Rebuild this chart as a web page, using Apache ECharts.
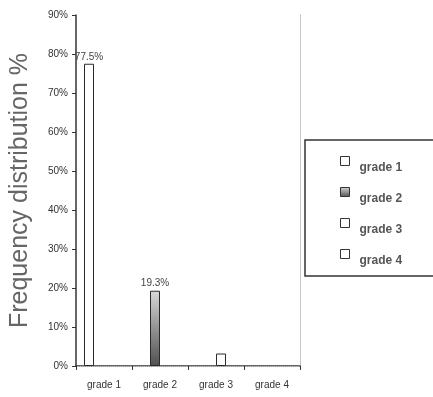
<!DOCTYPE html>
<html>
<head>
<meta charset="utf-8">
<script src="https://cdn.jsdelivr.net/npm/echarts@6/dist/echarts.min.js"></script>
<style>
  html, body { margin: 0; padding: 0; background: #fff; }
  #chart { width: 433px; height: 397px; }
</style>
</head>
<body>
<div id="chart"></div>
<script>
// Categories on the x axis
const categories = ['grade 1', 'grade 2', 'grade 3', 'grade 4'];
// One series per grade; each only has a value in its own category
const grade1 = [77.5, null, null, null];
const grade2 = [null, 19.3, null, null];
const grade3 = [null, null, 3.2, null];
const grade4 = [null, null, null, 0];
// Which series carry a value label
const labelled = { 'grade 1': true, 'grade 2': true, 'grade 3': false, 'grade 4': false };
// Y axis range (percent)
const yMin = 0, yMax = 90, yStep = 10;

const ink = '#333';
const font = 'Liberation Sans, Arial, sans-serif';

const grayFill = new echarts.graphic.LinearGradient(0, 0, 0, 1, [
  { offset: 0, color: '#d8d8d8' },
  { offset: 0.45, color: '#9a9a9a' },
  { offset: 1, color: '#505050' }
]);

function makeSeries(name, data, fill, border) {
  return {
    name: name,
    type: 'bar',
    data: data,
    barWidth: 10,
    barGap: '0%',
    itemStyle: { color: fill, borderColor: '#2a2a2a', borderWidth: border },
    label: {
      show: labelled[name],
      position: 'top',
      distance: 2,
      formatter: p => p.value + '%',
      fontFamily: font,
      fontSize: 10,
      color: '#444'
    }
  };
}

const chart = echarts.init(document.getElementById('chart'));
chart.setOption({
  animation: false,
  backgroundColor: '#fff',
  textStyle: { fontFamily: font },
  grid: { left: 72, right: 133, top: 15, bottom: 31 },
  legend: {
    orient: 'vertical',
    left: 305,
    top: 140,
    icon: 'rect',
    data: ['grade 1', 'grade 2', 'grade 3', 'grade 4'],
    itemWidth: 9,
    itemHeight: 9,
    itemGap: 13,
    padding: [16, 120, 9, 35],
    borderColor: '#333',
    borderWidth: 1.5,
    formatter: name => '{t|' + name + '}',
    textStyle: {
      fontFamily: font, fontSize: 12, fontWeight: 'bold', color: '#555',
      rich: { t: { fontFamily: font, fontSize: 12, fontWeight: 'bold', color: '#555', padding: [14, 0, 0, 5] } }
    },
    itemStyle: { borderColor: '#333', borderWidth: 1 }
  },
  xAxis: [
    {
      type: 'category',
      data: categories,
      axisLine: { lineStyle: { color: ink, width: 1.5 } },
      axisTick: { show: true, length: 4, lineStyle: { color: ink } },
      axisLabel: { fontFamily: font, fontSize: 10, color: '#333', margin: 14 },
      splitLine: { show: false }
    },
    {
      type: 'category',
      data: categories,
      position: 'top',
      axisLine: { lineStyle: { color: '#bbb', type: 'dotted', width: 1 } },
      axisTick: { show: false },
      axisLabel: { show: false }
    }
  ],
  yAxis: [
    {
      type: 'value',
      min: yMin,
      max: yMax,
      interval: yStep,
      axisLine: { show: true, lineStyle: { color: ink, width: 1.5 } },
      axisTick: { show: true, length: 4, lineStyle: { color: ink } },
      axisLabel: { formatter: '{value}%', fontFamily: font, fontSize: 10, color: '#333', margin: 8 },
      splitLine: { show: false },
      name: 'Frequency distribution %',
      nameLocation: 'middle',
      nameGap: 43,
      nameTextStyle: { fontFamily: font, fontSize: 25, color: '#666' }
    },
    {
      type: 'value',
      min: yMin,
      max: yMax,
      position: 'right',
      axisLine: { show: true, lineStyle: { color: '#bbb', type: 'dotted', width: 1 } },
      axisTick: { show: false },
      axisLabel: { show: false },
      splitLine: { show: false }
    }
  ],
  series: [
    makeSeries('grade 1', grade1, '#ffffff', 1),
    makeSeries('grade 2', grade2, grayFill, 1),
    makeSeries('grade 3', grade3, '#ffffff', 1),
    makeSeries('grade 4', grade4, '#ffffff', 0)
  ]
});
</script>
</body>
</html>
